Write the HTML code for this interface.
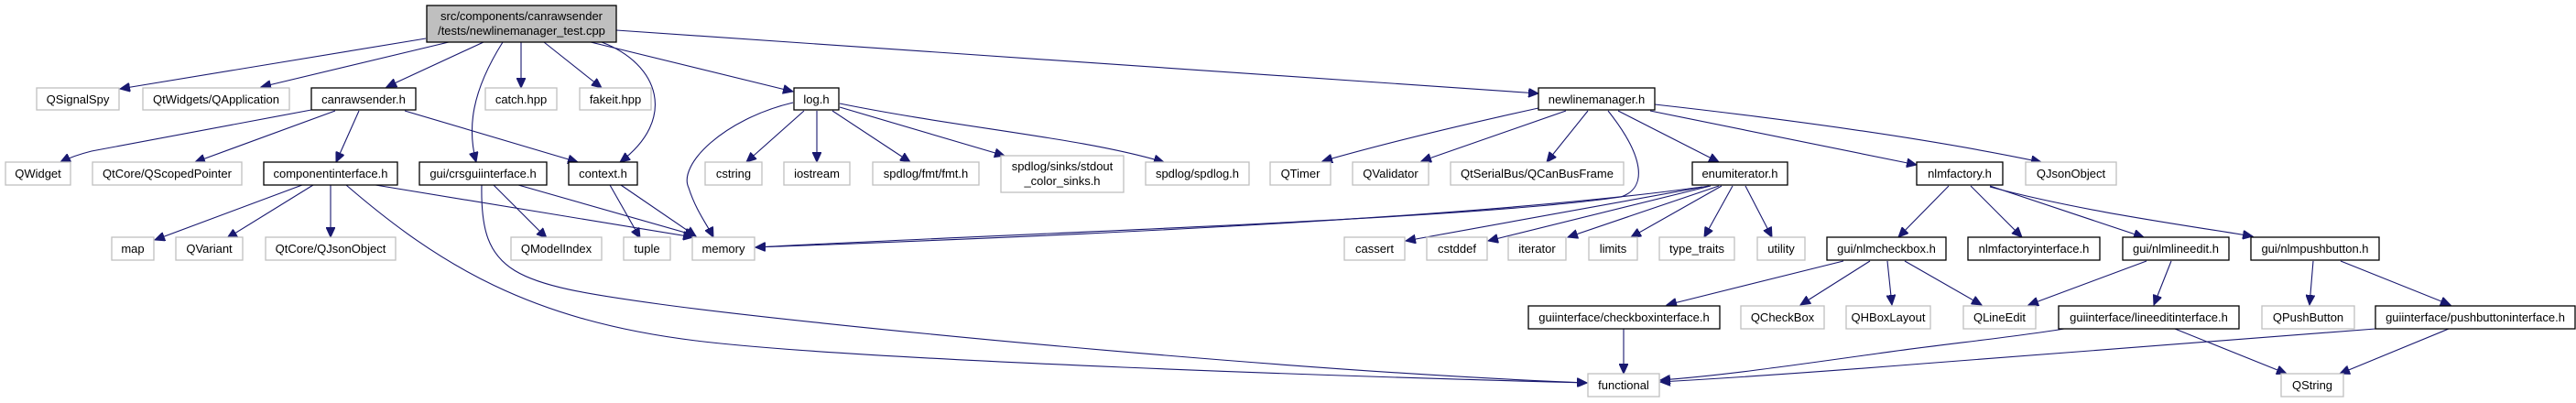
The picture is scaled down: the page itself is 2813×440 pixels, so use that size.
<!DOCTYPE html>
<html><head><meta charset="utf-8"><style>
html,body{margin:0;padding:0;background:#fff;}
svg{display:block;}
text{font-family:"Liberation Sans",sans-serif;font-size:13px;fill:#000;}
.b{fill:#fff;stroke:#000;stroke-width:1.3;}
.g{fill:#fff;stroke:#bfbfbf;stroke-width:1.3;}
.e{fill:none;stroke:#191970;stroke-width:1.1;marker-end:url(#ah);}
</style></head><body>
<svg width="2813" height="440" viewBox="0 0 2813 440" xmlns="http://www.w3.org/2000/svg">
<defs><marker id="ah" markerUnits="userSpaceOnUse" markerWidth="12" markerHeight="10" refX="11" refY="5" orient="auto"><path d="M0,0 L11,5 L0,10 z" fill="#191970" stroke="#191970"/></marker></defs>

<!-- edges -->
<path class="e" d="M465,42 L131,97"/>
<path class="e" d="M490,46 L285,95"/>
<path class="e" d="M528,46 L422,95"/>
<path class="e" d="M549,46 C515,100 510,140 520,177"/>
<path class="e" d="M569,46 L569,96"/>
<path class="e" d="M594,46 L657,96"/>
<path class="e" d="M657,46 C720,70 740,130 677,177"/>
<path class="e" d="M645,46 L866,100"/>
<path class="e" d="M673,33 L1680,102"/>
<path class="e" d="M340,120 L100,165 Q80,170 66,177"/>
<path class="e" d="M366,121 L213,177"/>
<path class="e" d="M392,121 L367,177"/>
<path class="e" d="M442,121 L631,177"/>
<path class="e" d="M330,202 L169,262"/>
<path class="e" d="M342,202 L248,260"/>
<path class="e" d="M361,202 L361,259"/>
<path class="e" d="M378,202 C480,290 580,350 760,372 S1500,412 1733,418"/>
<path class="e" d="M410,202 L757,259"/>
<path class="e" d="M539,202 L597,260"/>
<path class="e" d="M566,202 L759,257"/>
<path class="e" d="M526,202 C524,300 560,310 720,332 S1400,405 1733,418"/>
<path class="e" d="M666,202 L699,260"/>
<path class="e" d="M678,202 L760,258"/>
<path class="e" d="M866,112 C790,130 740,180 752,205 C760,230 772,245 779,259"/>
<path class="e" d="M878,121 L815,177"/>
<path class="e" d="M892,121 L892,177"/>
<path class="e" d="M909,121 L994,177"/>
<path class="e" d="M917,117 L1097,170"/>
<path class="e" d="M917,113 C1050,140 1180,150 1271,177"/>
<path class="e" d="M1680,118 C1580,140 1500,160 1444,176"/>
<path class="e" d="M1710,121 L1552,176"/>
<path class="e" d="M1734,121 L1689,177"/>
<path class="e" d="M1756,121 C1795,170 1800,205 1770,215 C1600,240 1100,255 825,270"/>
<path class="e" d="M1859,204 C1600,240 1100,260 825,270"/>
<path class="e" d="M1767,121 L1877,177"/>
<path class="e" d="M1802,121 L2093,180"/>
<path class="e" d="M1807,114 C1950,130 2100,150 2229,177"/>
<path class="e" d="M1866,203 L1535,263"/>
<path class="e" d="M1868,203 L1625,263"/>
<path class="e" d="M1877,203 L1712,259"/>
<path class="e" d="M1880,203 L1781,259"/>
<path class="e" d="M1892,203 L1861,259"/>
<path class="e" d="M1906,203 L1935,259"/>
<path class="e" d="M2128,203 L2073,259"/>
<path class="e" d="M2152,203 L2208,259"/>
<path class="e" d="M2173,203 L2341,259"/>
<path class="e" d="M2173,204 C2270,230 2380,245 2460,258"/>
<path class="e" d="M2013,285 L1820,333"/>
<path class="e" d="M2042,285 L1966,333"/>
<path class="e" d="M2061,285 L2066,333"/>
<path class="e" d="M2080,285 L2164,333"/>
<path class="e" d="M2344,285 L2215,333"/>
<path class="e" d="M2371,285 L2352,333"/>
<path class="e" d="M2526,285 L2522,333"/>
<path class="e" d="M2556,285 L2676,333"/>
<path class="e" d="M1773,359 L1773,408"/>
<path class="e" d="M2254,359 C2200,368 2120,376 2050,386 C1950,400 1880,410 1813,415"/>
<path class="e" d="M2594,359 L2100,397 C2000,405 1900,412 1813,417"/>
<path class="e" d="M2375,359 L2497,408"/>
<path class="e" d="M2674,359 L2555,408"/>

<!-- nodes -->
<rect x="466" y="6" width="207" height="40" fill="#bfbfbf" stroke="#000" stroke-width="1.3"/>
<text x="569.5" y="22" text-anchor="middle">src/components/canrawsender</text>
<text x="569.5" y="38" text-anchor="middle">/tests/newlinemanager_test.cpp</text>

<g>
<rect class="g" x="40" y="96" width="90" height="24"/><text x="85" y="113" text-anchor="middle">QSignalSpy</text>
<rect class="g" x="156" y="96" width="160" height="24"/><text x="236" y="113" text-anchor="middle">QtWidgets/QApplication</text>
<rect class="b" x="340" y="96" width="114" height="24"/><text x="397" y="113" text-anchor="middle">canrawsender.h</text>
<rect class="g" x="530" y="96" width="78" height="24"/><text x="569" y="113" text-anchor="middle">catch.hpp</text>
<rect class="g" x="633" y="96" width="78" height="24"/><text x="672" y="113" text-anchor="middle">fakeit.hpp</text>
<rect class="b" x="867" y="96" width="49" height="24"/><text x="891.5" y="113" text-anchor="middle">log.h</text>
<rect class="b" x="1680" y="96" width="127" height="24"/><text x="1743.5" y="113" text-anchor="middle">newlinemanager.h</text>

<rect class="g" x="6" y="177" width="71" height="25"/><text x="41.5" y="194" text-anchor="middle">QWidget</text>
<rect class="g" x="101" y="177" width="163" height="25"/><text x="182.5" y="194" text-anchor="middle">QtCore/QScopedPointer</text>
<rect class="b" x="288" y="177" width="146" height="25"/><text x="361" y="194" text-anchor="middle">componentinterface.h</text>
<rect class="b" x="458" y="177" width="139" height="25"/><text x="527.5" y="194" text-anchor="middle">gui/crsguiinterface.h</text>
<rect class="b" x="621" y="177" width="75" height="25"/><text x="658.5" y="194" text-anchor="middle">context.h</text>
<rect class="g" x="770" y="177" width="62" height="25"/><text x="801" y="194" text-anchor="middle">cstring</text>
<rect class="g" x="856" y="177" width="72" height="25"/><text x="892" y="194" text-anchor="middle">iostream</text>
<rect class="g" x="953" y="177" width="116" height="25"/><text x="1011" y="194" text-anchor="middle">spdlog/fmt/fmt.h</text>
<rect class="g" x="1093" y="170" width="134" height="40"/><text x="1160" y="186" text-anchor="middle">spdlog/sinks/stdout</text><text x="1160" y="202" text-anchor="middle">_color_sinks.h</text>
<rect class="g" x="1251" y="177" width="113" height="25"/><text x="1307.5" y="194" text-anchor="middle">spdlog/spdlog.h</text>
<rect class="g" x="1387" y="177" width="66" height="25"/><text x="1420" y="194" text-anchor="middle">QTimer</text>
<rect class="g" x="1477" y="177" width="83" height="25"/><text x="1518.5" y="194" text-anchor="middle">QValidator</text>
<rect class="g" x="1584" y="177" width="189" height="25"/><text x="1678.5" y="194" text-anchor="middle">QtSerialBus/QCanBusFrame</text>
<rect class="b" x="1848" y="177" width="104" height="25"/><text x="1900" y="194" text-anchor="middle">enumiterator.h</text>
<rect class="b" x="2093" y="177" width="94" height="25"/><text x="2140" y="194" text-anchor="middle">nlmfactory.h</text>
<rect class="g" x="2212" y="177" width="99" height="25"/><text x="2261.5" y="194" text-anchor="middle">QJsonObject</text>

<rect class="g" x="122" y="259" width="46" height="25"/><text x="145" y="276" text-anchor="middle">map</text>
<rect class="g" x="192" y="259" width="73" height="25"/><text x="228.5" y="276" text-anchor="middle">QVariant</text>
<rect class="g" x="290" y="259" width="142" height="25"/><text x="361" y="276" text-anchor="middle">QtCore/QJsonObject</text>
<rect class="g" x="558" y="259" width="99" height="25"/><text x="607.5" y="276" text-anchor="middle">QModelIndex</text>
<rect class="g" x="681" y="259" width="51" height="25"/><text x="706.5" y="276" text-anchor="middle">tuple</text>
<rect class="g" x="756" y="259" width="68" height="25"/><text x="790" y="276" text-anchor="middle">memory</text>
<rect class="g" x="1468" y="259" width="66" height="25"/><text x="1501" y="276" text-anchor="middle">cassert</text>
<rect class="g" x="1558" y="259" width="66" height="25"/><text x="1591" y="276" text-anchor="middle">cstddef</text>
<rect class="g" x="1647" y="259" width="63" height="25"/><text x="1678.5" y="276" text-anchor="middle">iterator</text>
<rect class="g" x="1735" y="259" width="53" height="25"/><text x="1761.5" y="276" text-anchor="middle">limits</text>
<rect class="g" x="1812" y="259" width="82" height="25"/><text x="1853" y="276" text-anchor="middle">type_traits</text>
<rect class="g" x="1919" y="259" width="52" height="25"/><text x="1945" y="276" text-anchor="middle">utility</text>
<rect class="b" x="1995" y="259" width="130" height="25"/><text x="2060" y="276" text-anchor="middle">gui/nlmcheckbox.h</text>
<rect class="b" x="2149" y="259" width="144" height="25"/><text x="2221" y="276" text-anchor="middle">nlmfactoryinterface.h</text>
<rect class="b" x="2318" y="259" width="116" height="25"/><text x="2376" y="276" text-anchor="middle">gui/nlmlineedit.h</text>
<rect class="b" x="2458" y="259" width="140" height="25"/><text x="2528" y="276" text-anchor="middle">gui/nlmpushbutton.h</text>

<rect class="b" x="1669" y="334" width="209" height="25"/><text x="1773.5" y="351" text-anchor="middle">guiinterface/checkboxinterface.h</text>
<rect class="g" x="1901" y="334" width="91" height="25"/><text x="1946.5" y="351" text-anchor="middle">QCheckBox</text>
<rect class="g" x="2016" y="334" width="92" height="25"/><text x="2062" y="351" text-anchor="middle">QHBoxLayout</text>
<rect class="g" x="2144" y="334" width="79" height="25"/><text x="2183.5" y="351" text-anchor="middle">QLineEdit</text>
<rect class="b" x="2248" y="334" width="197" height="25"/><text x="2346.5" y="351" text-anchor="middle">guiinterface/lineeditinterface.h</text>
<rect class="g" x="2470" y="334" width="101" height="25"/><text x="2520.5" y="351" text-anchor="middle">QPushButton</text>
<rect class="b" x="2594" y="334" width="218" height="25"/><text x="2703" y="351" text-anchor="middle">guiinterface/pushbuttoninterface.h</text>

<rect class="g" x="1734" y="408" width="78" height="25"/><text x="1773" y="425" text-anchor="middle">functional</text>
<rect class="g" x="2491" y="408" width="68" height="25"/><text x="2525" y="425" text-anchor="middle">QString</text>
</g>
</svg>
</body></html>
